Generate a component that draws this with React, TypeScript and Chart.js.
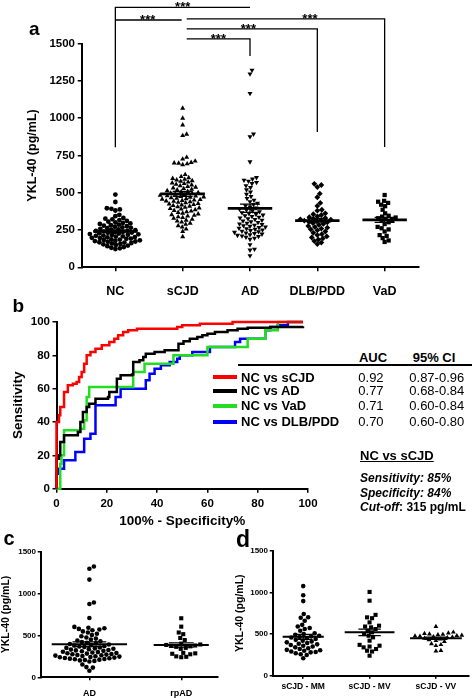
import React, { useEffect, useRef } from 'react';
import { Chart, registerables } from 'chart.js';

Chart.register(...registerables);

const FONT = '"Liberation Sans", Arial, Helvetica, sans-serif';
Chart.defaults.font.family = FONT;

// ---------------- Panel a data ----------------
const groupLabelsA = ['NC', 'sCJD', 'AD', 'DLB/PDD', 'VaD'];
const yTitle = 'YKL-40 (pg/mL)';

const ncValues = [488, 438, 396, 392, 388, 381, 352, 343, 331, 326, 322, 317, 311, 306, 302, 298, 294, 291, 286, 282,
  279, 276, 272, 268, 265, 262, 258, 255, 252, 249, 246, 244, 241, 238, 236, 233, 231, 228, 226, 223, 221, 218, 216,
  213, 211, 208, 206, 203, 201, 198, 196, 193, 191, 188, 186, 183, 181, 178, 176, 173, 171, 168, 166, 163, 160, 157,
  154, 150, 146, 142, 136, 131, 127, 122];
const scjdValues = [1067, 1000, 955, 893, 884, 738, 726, 712, 703, 700, 698, 694, 688, 622, 608, 601, 596, 590, 586,
  581, 577, 572, 566, 561, 556, 552, 547, 541, 537, 532, 528, 523, 519, 514, 509, 505, 501, 498, 494, 490, 487, 483,
  480, 478, 475, 472, 469, 466, 463, 460, 457, 454, 451, 448, 445, 442, 439, 436, 432, 428, 425, 421, 418, 414, 410,
  406, 402, 398, 394, 390, 386, 381, 377, 372, 368, 363, 358, 353, 348, 343, 338, 333, 328, 322, 316, 310, 303, 296,
  288, 279, 270, 256, 240, 205];
const adValues = [1323, 1297, 1167, 894, 876, 708, 602, 592, 585, 578, 570, 562, 548, 535, 520, 505, 490, 476, 462,
  450, 440, 430, 421, 413, 405, 398, 391, 385, 379, 373, 367, 361, 356, 351, 346, 341, 336, 331, 326, 321, 316, 311,
  306, 301, 296, 291, 287, 283, 279, 275, 271, 267, 263, 259, 255, 251, 247, 243, 239, 235, 231, 227, 223, 219, 215,
  211, 207, 202, 196, 188, 152, 122, 116, 78];
const dlbValues = [560, 552, 538, 494, 470, 432, 412, 386, 380, 362, 356, 351, 342, 336, 331, 326, 322, 319, 316, 313,
  310, 306, 302, 297, 291, 284, 277, 271, 266, 260, 254, 248, 240, 231, 222, 216, 207, 200, 194, 186, 176, 166, 156];
const vadValues = [485, 446, 440, 432, 420, 410, 386, 362, 346, 340, 334, 329, 324, 318, 311, 302, 290, 271, 262, 254,
  240, 216, 210, 196, 180, 170];
const yTicksA = [0, 250, 500, 750, 1000, 1250, 1500];

// ---------------- Panel b data ----------------
const rocLabels = ['NC vs sCJD', 'NC vs AD', 'NC vs VaD', 'NC vs DLB/PDD'];
const rocColors = ['#ff0000', '#000000', '#22dd22', '#0000ff'];
const rocAuc = ['0.92', '0.77', '0.71', '0.70'];
const rocCi = ['0.87-0.96', '0.68-0.84', '0.60-0.84', '0.60-0.80'];
const rocTicks = [0, 20, 40, 60, 80, 100];

const rocScjdX = [0, 0, 1, 1.5, 3, 4.5, 6.5, 8, 9, 10, 11, 12, 13.5, 15.5, 18, 21, 23, 24.5, 26.5, 28.5, 32, 48, 50, 57, 70, 98];
const rocScjdY = [0, 40, 44, 49, 58, 62, 63, 64, 67, 70, 75, 80, 82, 84, 86, 88, 90, 92, 94, 95, 96, 97, 98, 99, 100, 100];
const rocAdX = [0, 0, 1, 1.5, 3, 8.5, 9.5, 10.5, 12, 13, 15.5, 20.5, 21, 24, 25.5, 30, 30.5, 33, 34.5, 35.5, 39, 43,
  48.5, 50.5, 53, 56, 58, 60, 63, 68, 72, 76, 85, 98];
const rocAdY = [0, 18, 20, 28, 32, 34, 40, 46, 49, 51, 54, 55, 58, 66, 68, 68.5, 76, 77, 79, 81, 82, 83, 87, 88.5, 90,
  91, 92, 93, 94, 95, 96, 96.5, 97, 97.5];
const rocVadX = [0, 1.5, 2, 3, 9.5, 11, 12, 13, 30.5, 35, 46.5, 60, 76, 83, 88, 98];
const rocVadY = [0, 15, 20, 35, 36, 41, 55, 61, 70, 75, 80, 85, 90, 95, 100, 100];
const rocDlbX = [0, 0, 1, 3, 7.5, 11, 13.5, 15.5, 23.5, 25.5, 35.5, 37, 39, 41.5, 45, 48, 49, 54, 61, 71, 73, 83, 85, 88, 92, 98];
const rocDlbY = [0, 9, 12, 17, 22, 30, 33, 50, 55, 60, 65, 69, 72, 74, 76, 78, 80, 82, 85, 88, 90, 95, 97, 98, 100, 100];

// ---------------- Panel c data ----------------
const groupLabelsC = ['AD', 'rpAD'];
const rpadValues = [705, 605, 535, 515, 470, 445, 402, 392, 386, 380, 375, 370, 364, 352, 340, 292, 286, 281, 275, 250, 245, 240];

// ---------------- Panel d data ----------------
const groupLabelsD = ['sCJD - MM', 'sCJD - MV', 'sCJD - VV'];
const mmValues = [1075, 965, 895, 740, 702, 695, 660, 610, 590, 572, 560, 540, 510, 500, 490, 480, 472, 465, 458, 450,
  440, 430, 420, 410, 400, 392, 384, 376, 368, 360, 350, 340, 330, 320, 310, 305, 300, 290, 285, 280, 270, 258, 248, 210];
const mvValues = [1005, 900, 730, 700, 690, 640, 600, 590, 580, 560, 540, 520, 500, 480, 460, 420, 370, 360, 350, 340,
  320, 300, 290, 240];
const vvValues = [590, 522, 512, 505, 500, 495, 490, 485, 480, 476, 472, 468, 463, 456, 448, 440, 430, 420, 410, 382,
  372, 360, 302, 296];
const yTicksCD = [0, 500, 1000, 1500];

// ---------------- helpers ----------------
type Box = { left: number; top: number; w: number; h: number };
type Area = { l: number; r: number; t: number; b: number };
type Group = { values: number[]; style: string; rotation?: number; radius: number; half: number };
type Bracket = { from: number; to: number; level: number; dropFrom?: number; dropTo?: number; starsAt: number };
type ScatterSpec = {
  box: Box; area: Area; xMin: number; xMax: number; yTicks: number[];
  labels: string[]; groups: Group[];
  tickFont: number; catFont: number; titleFont: number;
  yTitleCenterX: number; yTickGap: number; xLabelCenterY: number; tickLen: number;
  diameter: number; meanWidth: number; brackets?: Bracket[];
};

function swarmX(values: number[], center: number, pxPerY: number, pxPerX: number, diameter: number): number[] {
  const order = values.map((_, i) => i).sort((a, b) => values[a] - values[b]);
  const placed: { x: number; y: number }[] = [];
  const xs = new Array(values.length).fill(center);
  const step = 0.5;
  for (const i of order) {
    const y = values[i] * pxPerY;
    const near = placed.filter((p) => Math.abs(p.y - y) < diameter);
    let off = 0;
    for (let k = 0; k < 600; k++) {
      const cand = k === 0 ? 0 : (k % 2 === 1 ? 1 : -1) * Math.ceil(k / 2) * step;
      if (near.every((p) => (p.x - cand) ** 2 + (p.y - y) ** 2 >= diameter * diameter)) { off = cand; break; }
    }
    placed.push({ x: off, y });
    xs[i] = center + off / pxPerX;
  }
  return xs;
}

const axisGrid = (tickLen: number) => ({
  display: true, drawOnChartArea: false, drawTicks: true, tickLength: tickLen, color: '#000', lineWidth: 1.5,
});
const axisBorder = { display: true, color: '#000', width: 2 };

// ---------------- panel specs ----------------
const specA: ScatterSpec = {
  box: { left: 0, top: 0, w: 472, h: 305 },
  area: { l: 81.7, r: 418.3, t: 43.7, b: 267.3 },
  xMin: -0.5, xMax: 4.5, yTicks: yTicksA, labels: groupLabelsA,
  groups: [
    { values: ncValues, style: 'circle', radius: 2.4, half: 0.33 },
    { values: scjdValues, style: 'triangle', radius: 2.9, half: 0.33 },
    { values: adValues, style: 'triangle', rotation: 180, radius: 2.9, half: 0.33 },
    { values: dlbValues, style: 'rectRot', radius: 2.9, half: 0.33 },
    { values: vadValues, style: 'rect', radius: 3.0, half: 0.33 },
  ],
  tickFont: 11.5, catFont: 12.5, titleFont: 12.5,
  yTitleCenterX: 33, yTickGap: 6.7, xLabelCenterY: 292, tickLen: 4,
  diameter: 4.2, meanWidth: 2.8,
  brackets: [
    { from: 0, to: 2, level: 1744, dropFrom: 805, starsAt: 1 },
    { from: 0, to: 0.985, level: 1659, starsAt: 0.48 },
    { from: 1.06, to: 4, level: 1666, dropTo: 807, starsAt: 2.89 },
    { from: 1.06, to: 3, level: 1599, dropTo: 907, starsAt: 1.976 },
    { from: 1.06, to: 2, level: 1533, dropTo: 1417, starsAt: 1.53 },
  ],
};

const specC: ScatterSpec = {
  box: { left: 0, top: 530, w: 230, h: 175 },
  area: { l: 40.7, r: 218, t: 551.7, b: 677.3 },
  xMin: -0.53, xMax: 1.4, yTicks: yTicksCD, labels: groupLabelsC,
  groups: [
    { values: adValues, style: 'circle', radius: 2.3, half: 0.41 },
    { values: rpadValues, style: 'rect', radius: 2.9, half: 0.3 },
  ],
  tickFont: 8, catFont: 9, titleFont: 10.5,
  yTitleCenterX: 6.3, yTickGap: 4.7, xLabelCenterY: 694, tickLen: 3,
  diameter: 4.7, meanWidth: 2,
};

const specD: ScatterSpec = {
  box: { left: 230, top: 530, w: 242, h: 170 },
  area: { l: 272.7, r: 470, t: 550.7, b: 675.7 },
  xMin: -0.46, xMax: 2.5, yTicks: yTicksCD, labels: groupLabelsD,
  groups: [
    { values: mmValues, style: 'circle', radius: 2.3, half: 0.31 },
    { values: mvValues, style: 'rect', radius: 2.9, half: 0.375 },
    { values: vvValues, style: 'triangle', radius: 2.8, half: 0.39 },
  ],
  tickFont: 8, catFont: 8.5, titleFont: 10.5,
  yTitleCenterX: 240, yTickGap: 4.7, xLabelCenterY: 686.7, tickLen: 3,
  diameter: 4.7, meanWidth: 2,
};

const rocBox: Box = { left: 0, top: 300, w: 322, h: 230 };
const rocArea: Area = { l: 56.5, r: 308, t: 322, b: 488.7 };

// ---------------- components ----------------
function ScatterPanel({ spec }: { spec: ScatterSpec }) {
  const ref = useRef<HTMLCanvasElement | null>(null);
  useEffect(() => {
    const canvas = ref.current;
    if (!canvas) return;
    const { box, area } = spec;
    const L = area.l - box.left, R = area.r - box.left, T = area.t - box.top, B = area.b - box.top;
    const yMax = spec.yTicks[spec.yTicks.length - 1];
    const pxPerY = (B - T) / yMax;
    const pxPerX = (R - L) / (spec.xMax - spec.xMin);
    const datasets = spec.groups.map((g, i) => {
      const xs = swarmX(g.values, i, pxPerY, pxPerX, spec.diameter);
      return {
        label: spec.labels[i],
        data: g.values.map((v, j) => ({ x: xs[j], y: v })),
        pointStyle: g.style,
        pointRotation: g.rotation || 0,
        pointRadius: g.radius,
        pointHoverRadius: g.radius,
        pointBackgroundColor: '#000',
        pointBorderColor: '#000',
        pointBorderWidth: 0,
        showLine: false,
        clip: false,
      };
    });
    const statsPlugin = {
      id: 'meanSem',
      afterDatasetsDraw(chart: any) {
        const ctx = chart.ctx, xs = chart.scales.x, ys = chart.scales.y;
        ctx.save();
        ctx.strokeStyle = '#000';
        spec.groups.forEach((g, i) => {
          const n = g.values.length;
          const mean = g.values.reduce((s, v) => s + v, 0) / n;
          const sd = Math.sqrt(g.values.reduce((s, v) => s + (v - mean) ** 2, 0) / (n - 1));
          const sem = sd / Math.sqrt(n);
          const ym = ys.getPixelForValue(mean);
          const yHi = ys.getPixelForValue(mean + sem);
          const yLo = ys.getPixelForValue(mean - sem);
          const xc = xs.getPixelForValue(i);
          ctx.lineWidth = spec.meanWidth;
          ctx.beginPath();
          ctx.moveTo(xs.getPixelForValue(i - g.half), ym);
          ctx.lineTo(xs.getPixelForValue(i + g.half), ym);
          ctx.stroke();
          const c0 = xs.getPixelForValue(i - g.half * 0.45), c1 = xs.getPixelForValue(i + g.half * 0.45);
          ctx.lineWidth = 1.3;
          ctx.beginPath();
          ctx.moveTo(xc, yHi); ctx.lineTo(xc, yLo);
          ctx.moveTo(c0, yHi); ctx.lineTo(c1, yHi);
          ctx.moveTo(c0, yLo); ctx.lineTo(c1, yLo);
          ctx.stroke();
        });
        ctx.restore();
      },
    };
    const bracketPlugin = {
      id: 'brackets',
      afterDraw(chart: any) {
        if (!spec.brackets) return;
        const ctx = chart.ctx, xs = chart.scales.x, ys = chart.scales.y;
        ctx.save();
        ctx.strokeStyle = '#000';
        ctx.fillStyle = '#000';
        ctx.lineWidth = 1.3;
        ctx.font = `bold 13px ${FONT}`;
        ctx.textAlign = 'center';
        ctx.textBaseline = 'alphabetic';
        for (const b of spec.brackets) {
          const x0 = xs.getPixelForValue(b.from), x1 = xs.getPixelForValue(b.to);
          const yl = ys.getPixelForValue(b.level);
          ctx.beginPath();
          if (b.dropFrom != null) { ctx.moveTo(x0, ys.getPixelForValue(b.dropFrom)); ctx.lineTo(x0, yl); }
          else ctx.moveTo(x0, yl);
          ctx.lineTo(x1, yl);
          if (b.dropTo != null) ctx.lineTo(x1, ys.getPixelForValue(b.dropTo));
          ctx.stroke();
          ctx.fillText('***', xs.getPixelForValue(b.starsAt), yl + 4);
        }
        ctx.restore();
      },
    };
    const tickFontObj = { family: FONT, size: spec.tickFont, weight: 'bold' as const };
    const catFontObj = { family: FONT, size: spec.catFont, weight: 'bold' as const };
    const titleFontObj = { family: FONT, size: spec.titleFont, weight: 'bold' as const };
    const chart = new Chart(canvas, {
      type: 'scatter',
      data: { datasets: datasets as any },
      options: {
        animation: false,
        responsive: false,
        devicePixelRatio: 1,
        events: [],
        layout: { padding: { left: 0, right: box.w - R, top: T, bottom: 0 } },
        plugins: { legend: { display: false }, tooltip: { enabled: false } },
        scales: {
          x: {
            type: 'linear',
            min: spec.xMin,
            max: spec.xMax,
            afterBuildTicks: (s: any) => { s.ticks = spec.labels.map((_, i) => ({ value: i })); },
            afterFit: (s: any) => { s.height = box.h - B; },
            ticks: {
              autoSkip: false, maxRotation: 0, minRotation: 0, color: '#000', font: catFontObj,
              padding: spec.xLabelCenterY - area.b - spec.tickLen - (spec.catFont * 1.2) / 2,
              callback: (v: any) => spec.labels[Math.round(Number(v))] ?? '',
            },
            grid: axisGrid(spec.tickLen),
            border: axisBorder,
          },
          y: {
            type: 'linear',
            min: 0,
            max: yMax,
            afterBuildTicks: (s: any) => { s.ticks = spec.yTicks.map((v) => ({ value: v })); },
            afterFit: (s: any) => { s.width = L; },
            ticks: {
              color: '#000', font: tickFontObj, padding: spec.yTickGap - spec.tickLen,
              callback: (v: any) => String(v),
            },
            title: {
              display: true, text: yTitle, color: '#000', font: titleFontObj,
              padding: { top: Math.max(0, spec.yTitleCenterX - box.left - (spec.titleFont * 1.2) / 2), bottom: 0 },
            },
            grid: axisGrid(spec.tickLen),
            border: axisBorder,
          },
        },
      } as any,
      plugins: [statsPlugin, bracketPlugin],
    });
    return () => chart.destroy();
  }, [spec]);
  const { box } = spec;
  return (
    <canvas ref={ref} width={box.w} height={box.h}
      style={{ position: 'absolute', left: box.left, top: box.top, width: box.w, height: box.h }} />
  );
}

function RocPanel() {
  const ref = useRef<HTMLCanvasElement | null>(null);
  useEffect(() => {
    const canvas = ref.current;
    if (!canvas) return;
    const box = rocBox, area = rocArea;
    const L = area.l - box.left, R = area.r - box.left, T = area.t - box.top, B = area.b - box.top;
    const series = [
      { x: rocScjdX, y: rocScjdY },
      { x: rocAdX, y: rocAdY },
      { x: rocVadX, y: rocVadY },
      { x: rocDlbX, y: rocDlbY },
    ];
    const datasets = series.map((s, i) => ({
      label: rocLabels[i],
      data: s.x.map((x, j) => ({ x, y: s.y[j] })),
      borderColor: rocColors[i],
      backgroundColor: rocColors[i],
      borderWidth: 2.5,
      pointRadius: 0,
      stepped: 'before',
      fill: false,
      tension: 0,
      clip: 4,
    }));
    const tickFont = { family: FONT, size: 11.5, weight: 'bold' as const };
    const titleFont = { family: FONT, size: 13.5, weight: 'bold' as const };
    const chart = new Chart(canvas, {
      type: 'line',
      data: { datasets: datasets as any },
      options: {
        animation: false,
        responsive: false,
        devicePixelRatio: 1,
        events: [],
        layout: { padding: { left: 0, right: box.w - R, top: T, bottom: 0 } },
        plugins: { legend: { display: false }, tooltip: { enabled: false } },
        scales: {
          x: {
            type: 'linear', min: 0, max: 100,
            afterBuildTicks: (s: any) => { s.ticks = rocTicks.map((v) => ({ value: v })); },
            afterFit: (s: any) => { s.height = box.h - B; },
            ticks: { color: '#000', font: tickFont, maxRotation: 0, padding: 504 - area.b - 4 - 6.9 },
            title: { display: true, text: '100% - Specificity%', color: '#000', font: titleFont, padding: { top: 0, bottom: 0.2 } },
            grid: axisGrid(4),
            border: axisBorder,
          },
          y: {
            type: 'linear', min: 0, max: 100,
            afterBuildTicks: (s: any) => { s.ticks = rocTicks.map((v) => ({ value: v })); },
            afterFit: (s: any) => { s.width = L; },
            ticks: { color: '#000', font: tickFont, padding: 2.5 },
            title: { display: true, text: 'Sensitivity', color: '#000', font: titleFont, padding: { top: 9.9, bottom: 0 } },
            grid: axisGrid(4),
            border: axisBorder,
          },
        },
      } as any,
    });
    return () => chart.destroy();
  }, []);
  return (
    <canvas ref={ref} width={rocBox.w} height={rocBox.h}
      style={{ position: 'absolute', left: rocBox.left, top: rocBox.top, width: rocBox.w, height: rocBox.h }} />
  );
}

function Txt(props: {
  x: number; y: number; size: number; bold?: boolean; italic?: boolean; center?: boolean;
  underline?: boolean; children: React.ReactNode;
}) {
  const { x, y, size, bold = true, italic = false, center = false, underline = false, children } = props;
  const st: React.CSSProperties = {
    position: 'absolute', left: x, top: y - size * 0.59, fontSize: size, lineHeight: `${size * 1.2}px`,
    fontFamily: FONT, fontWeight: bold ? 700 : 400, fontStyle: italic ? 'italic' : 'normal',
    whiteSpace: 'nowrap', color: '#000', textDecoration: underline ? 'underline' : 'none',
  };
  if (center) st.transform = 'translateX(-50%)';
  return <div style={st}>{children}</div>;
}

const rowY = [377.3, 391, 406, 421.5];

export default function App() {
  return (
    <div style={{ position: 'fixed', left: 0, top: 0, width: 472, height: 698, background: '#fff', overflow: 'hidden', fontFamily: FONT }}>
      <ScatterPanel spec={specA} />
      <RocPanel />
      <ScatterPanel spec={specC} />
      <ScatterPanel spec={specD} />

      <Txt x={29} y={29} size={19}>a</Txt>
      <Txt x={12.5} y={306.5} size={19}>b</Txt>
      <Txt x={3.5} y={537.5} size={20}>c</Txt>
      <Txt x={236} y={540} size={23}>d</Txt>

      {/* ROC table */}
      <Txt x={373} y={357.5} size={13} center>AUC</Txt>
      <Txt x={434} y={357.5} size={13} center>95% CI</Txt>
      <div style={{ position: 'absolute', left: 238, top: 364.2, width: 234, height: 1.6, background: '#000' }} />
      {rocLabels.map((lab, i) => (
        <React.Fragment key={lab}>
          <div style={{ position: 'absolute', left: 213, top: rowY[i] - 2, width: 24, height: 4, background: rocColors[i] }} />
          <Txt x={241} y={rowY[i]} size={13}>{lab}</Txt>
          <Txt x={358.3} y={rowY[i]} size={13} bold={false}>{rocAuc[i]}</Txt>
          <Txt x={409.3} y={rowY[i]} size={13} bold={false}>{rocCi[i]}</Txt>
        </React.Fragment>
      ))}
      <Txt x={360} y={456} size={13} underline>NC vs sCJD</Txt>
      <Txt x={360} y={478.3} size={12} italic>Sensitivity: 85%</Txt>
      <Txt x={360} y={492.7} size={12} italic>Specificity: 84%</Txt>
      <Txt x={360} y={506.7} size={12}><i>Cut-off</i>: 315 pg/mL</Txt>
    </div>
  );
}
